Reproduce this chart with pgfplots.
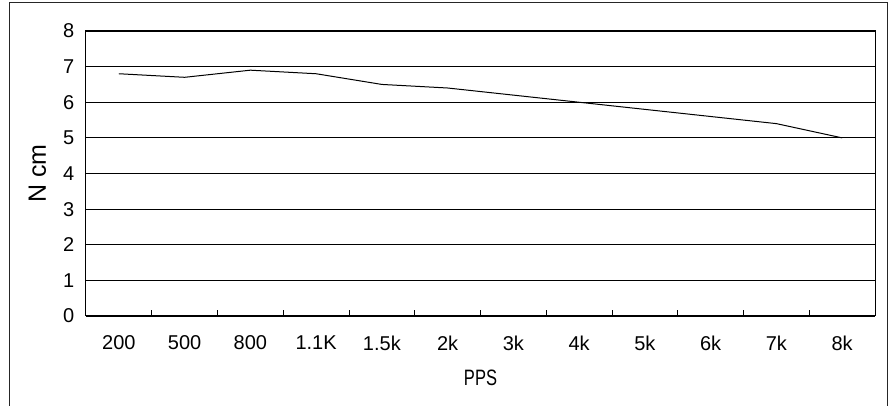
\documentclass[border=0pt]{standalone}
\usepackage{graphicx}
\usepackage{pgfplots}
\pgfplotsset{compat=1.18}
\usepackage{fontspec}
\setmainfont{Liberation Sans}

\begin{document}
\begin{tikzpicture}[x=1pt,y=1pt]
% page: 893 x 406, plot area starts 86 from the left and ends 316 from the top
\path[use as bounding box] (-86,-90) rectangle (807,316);
\draw[line width=1pt, black!85] (-76.5,-100) rectangle (801,313.5);
\begin{axis}[
    at={(0,0)}, anchor=south west,
    scale only axis,
    width=789pt, height=285pt,
    xmin=-0.5, xmax=11.5,
    ymin=0, ymax=8,
    ytick={0,1,...,8},
    xtick={0,...,11},
    xticklabels={200,500,800,1.1K,1.5k,2k,3k,4k,5k,6k,7k,8k},
    major x tick style={draw=none},
    minor xtick={0.5,1.5,...,10.5},
    minor tick length=6pt,
    tick align=inside,
    tick pos=bottom,
    ytick style={draw=none},
    ymajorgrids,
    major grid style={black, line width=0.8pt},
    axis line style={black, line width=1pt},
    tick style={black, line width=0.8pt},
    /pgf/number format/assume math mode=true,
    tick label style={font=\fontsize{20}{22}\selectfont},
    yticklabel style={xshift=-8.3pt},
    xticklabel style={yshift=-16.3pt},
    xlabel={\scalebox{1}[1.35]{PPS}},
    every axis x label/.style={at={(axis description cs:0.5,0)}, anchor=center, yshift=-61.7pt, font=\fontsize{16.5}{19}\selectfont},
    ylabel={N cm},
    every axis y label/.style={at={(axis description cs:0,0.5)}, rotate=90, anchor=center, yshift=48.5pt, font=\fontsize{25}{27}\selectfont},
  ]
\addplot[black, line width=1pt, mark=none] coordinates {
  (0,6.8) (1,6.7) (2,6.9) (3,6.8) (4,6.5) (5,6.4)
  (6,6.2) (7,6.0) (8,5.8) (9,5.6) (10,5.4) (11,5.0)
};
\end{axis}
\end{tikzpicture}
\end{document}
